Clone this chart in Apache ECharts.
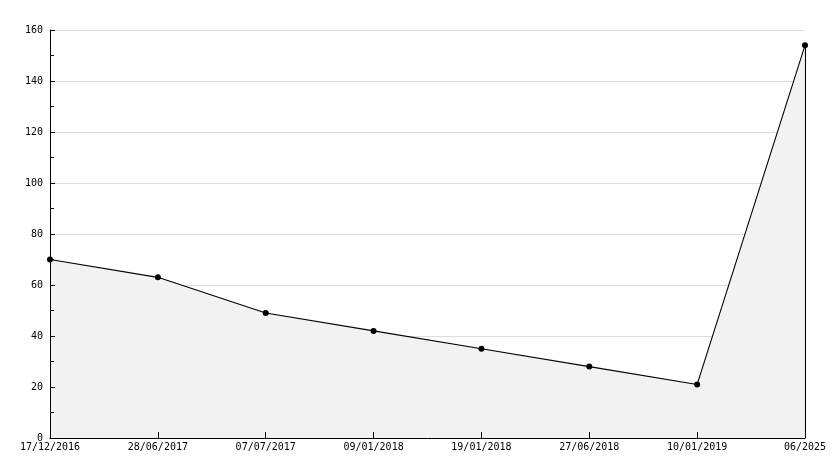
<!DOCTYPE html>
<html><head><meta charset="utf-8">
<script src="https://cdn.jsdelivr.net/npm/echarts@6/dist/echarts.min.js"></script>
<style>html,body{margin:0;padding:0;background:#fff}#c{width:834px;height:468px}</style>
</head><body><div id="c"></div>
<script>
const categories = ['17/12/2016','28/06/2017','07/07/2017','09/01/2018','19/01/2018','27/06/2018','10/01/2019','06/2025'];
const values = [70, 63, 49, 42, 35, 28, 21, 154];
const yTicks = [0, 20, 40, 60, 80, 100, 120, 140, 160];

const font = 'DejaVu Sans Mono';
const last = categories.length - 1;
const yMin = yTicks[0], yMax = yTicks[yTicks.length - 1];
const chart = echarts.init(document.getElementById('c'), null, {renderer: 'canvas'});
chart.setOption({
  animation: false,
  backgroundColor: '#fff',
  grid: {left: 50, right: 29, top: 30, bottom: 30, containLabel: false},
  xAxis: {
    type: 'category', data: categories, boundaryGap: false, z: 10,
    axisLine: {lineStyle: {color: '#000', width: 1}},
    axisTick: {show: true, inside: true, length: 6, lineStyle: {color: '#000'}},
    axisLabel: {color: '#000', fontFamily: font, fontSize: 10, margin: 4, interval: 0},
    splitLine: {show: false}
  },
  yAxis: [{
    type: 'value', min: yMin, max: yMax, interval: 20, z: 0,
    axisLine: {show: false}, axisTick: {show: false}, axisLabel: {show: false},
    splitLine: {show: true, lineStyle: {color: '#dcdcdc', width: 1}}
  }, {
    type: 'value', min: yMin, max: yMax, interval: 20, position: 'left', z: 10,
    axisLine: {show: true, lineStyle: {color: '#000', width: 1}},
    axisTick: {show: true, inside: true, length: 5, lineStyle: {color: '#000'}},
    minorTick: {show: true, splitNumber: 2, length: 4, lineStyle: {color: '#000'}},
    axisLabel: {color: '#000', fontFamily: font, fontSize: 10, margin: 7},
    splitLine: {show: false}
  }],
  series: [{
    type: 'line', data: values, yAxisIndex: 0, z: 3,
    symbol: 'circle', symbolSize: 6,
    itemStyle: {color: '#000'},
    lineStyle: {color: '#000', width: 1.1},
    areaStyle: {color: '#f2f2f2', opacity: 1},
    markLine: {
      silent: true, symbol: 'none', label: {show: false},
      lineStyle: {color: '#000', width: 1.1, type: 'solid'},
      data: [[{coord: [categories[last], 0]}, {coord: [categories[last], values[last]]}]]
    }
  }]
});
</script></body></html>
